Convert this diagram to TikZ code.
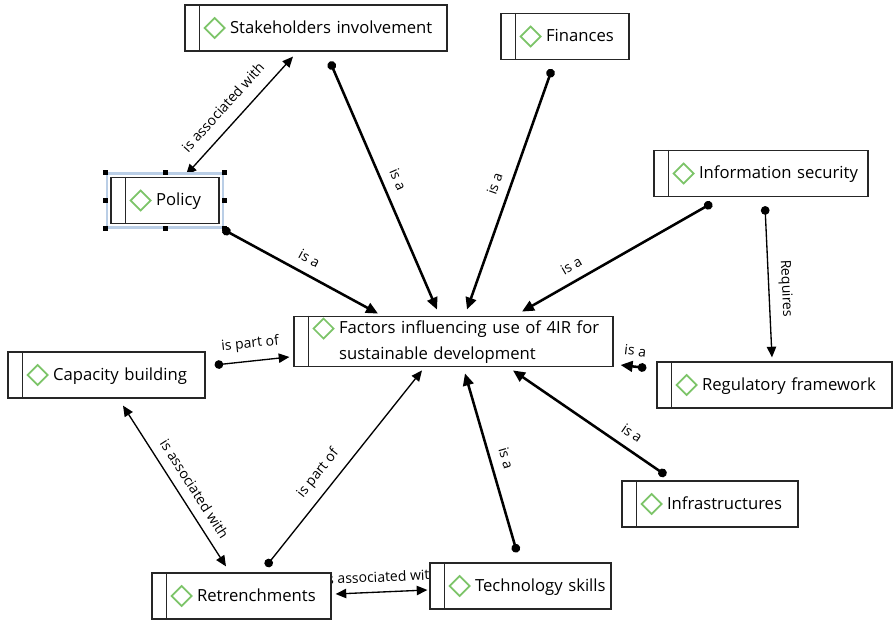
\documentclass[tikz,border=0pt]{standalone}
\usepackage{fontspec}
\setmainfont{Open Sans}
\usepackage{xcolor}
\usepackage{tikz}
\usetikzlibrary{arrows.meta,calc,backgrounds,fit}

\definecolor{leafgreen}{RGB}{124,196,104}
\definecolor{selblue}{RGB}{186,206,230}
\newcommand{\conceptlabel}[1]{\raisebox{3.5pt}{\mbox{\tikz[baseline=-0.6ex]\draw[leafgreen,line width=1.3pt] (0,0) -- (7.5pt,7.5pt) -- (15pt,0) -- (7.5pt,-7.5pt) -- cycle;\kern3.5pt#1}}}

\begin{document}
\begin{tikzpicture}[x=0.75pt,y=-0.75pt,
  concept/.style={draw=black!85,line width=0.9pt,fill=white,minimum height=34.5pt,
    inner xsep=14pt,inner ysep=0pt,text width=#1,align=left,
    font=\fontsize{12.5pt}{19pt}\selectfont},
  link/.style={font=\fontsize{10.5pt}{12pt}\selectfont,sloped,above=6pt,inner sep=1pt},
  isa/.style={line width=1.9pt,{Circle[length=6.5pt]}-{Triangle[length=9pt,width=8pt]}},
  partof/.style={line width=1pt,{Circle[length=6.5pt]}-{Triangle[length=8pt,width=7pt]}},
  assoc/.style={line width=1pt,{Triangle[length=8pt,width=7pt]}-{Triangle[length=8pt,width=7pt]}}]
  \useasboundingbox (0,0) rectangle (893,620);

  % Concepts
  \node[concept=168.5pt] (stake) at (316,28) {\conceptlabel{Stakeholders involvement}};
  \node[concept=68pt] (fin) at (565,36.5) {\conceptlabel{Finances}};
  \node[concept=53pt] (pol) at (165,200.5) {\conceptlabel{Policy}};
  \node[concept=132.5pt] (infosec) at (761,173.5) {\conceptlabel{Information security}};
  \node[concept=211.25pt] (fac) at (453.5,341.5) {\conceptlabel{\begin{tabular}[t]{@{}l@{}}Factors influencing use of 4IR for\\sustainable development\end{tabular}}};
  \node[concept=119.75pt] (cap) at (106.5,375) {\conceptlabel{Capacity building}};
  \node[concept=148.25pt] (regul) at (774.5,385) {\conceptlabel{Regulatory framework}};
  \node[concept=104pt] (infra) at (710,504) {\conceptlabel{Infrastructures}};
  \node[concept=106.25pt] (retr) at (241.5,596) {\conceptlabel{Retrenchments}};
  \node[concept=107.75pt] (tech) at (520.5,586) {\conceptlabel{Technology skills}};

  % Left bars of the concepts
  \foreach \n in {stake,fin,pol,infosec,fac,cap,regul,infra,retr,tech}
    \draw[line width=0.9pt,black!85] ($(\n.north west)+(15,0)$) -- ($(\n.south west)+(15,0)$);

  % Selection frame round Policy
  \node[draw=selblue,line width=2pt,fit=(pol),inner sep=2.5pt] (polsel) {};
  \foreach \a in {north west,north,north east,east,south east,south,south west,west}
    \fill (polsel.\a) +(-2.5,-2.5) rectangle +(2.5,2.5);

  % Links
  \begin{scope}[on background layer]
    \draw[assoc] ($(pol.north)+(21,-2)$) -- node[link,pos=0.47,above=2pt] {is associated with} ($(stake.south)+(-23,5)$);
    \draw[isa] ($(stake.south)+(14,10)$) -- node[link] {is a} ($(fac.north)+(-16.5,-6)$);
    \draw[isa] ($(fin.south)+(-13,9)$) -- node[link] {is a} ($(fac.north)+(13.5,-6)$);
    \draw[isa] ($(infosec.south)+(-49,6)$) -- node[link,pos=0.7] {is a} ($(fac.north)+(68.5,-4)$);
    \draw[partof] ($(infosec.south)+(4,9)$) -- node[link,pos=0.55] {Requires} ($(regul.north)+(-2.5,-4)$);
    \draw[isa] ($(regul.west)+(-10,-17)$) -- node[link] {is a} ($(fac.east)+(7,23.5)$);
    \draw[isa] ($(infra.north)+(-44,-5)$) -- node[link,pos=0.28] {is a} ($(fac.south)+(59.5,3)$);
    \draw[isa] ($(tech.north)+(-3.5,-10)$) -- node[link] {is a} ($(fac.south)+(11.5,6)$);
    \draw[isa] ($(pol.south east)+(3,5)$) -- node[link,pos=0.51] {is a} ($(fac.north)+(-75.5,-2)$);
    \draw[partof] ($(retr.north)+(24.5,-6)$) -- node[link,pos=0.42] {is part of} ($(fac.south)+(-31.5,3)$);
    \draw[partof] ($(cap.east)+(9,-10)$) -- node[link] {is part of} ($(fac.west)+(-4,15.5)$);
    \draw[assoc] ($(cap.south)+(16.5,7)$) -- node[link,pos=0.57] {is associated with} ($(retr.north)+(-15.5,-6)$);
    \draw[assoc] ($(retr.east)+(4,-2)$) -- node[link] {is associated with} ($(tech.west)+(-2,4)$);
  \end{scope}
\end{tikzpicture}
\end{document}
